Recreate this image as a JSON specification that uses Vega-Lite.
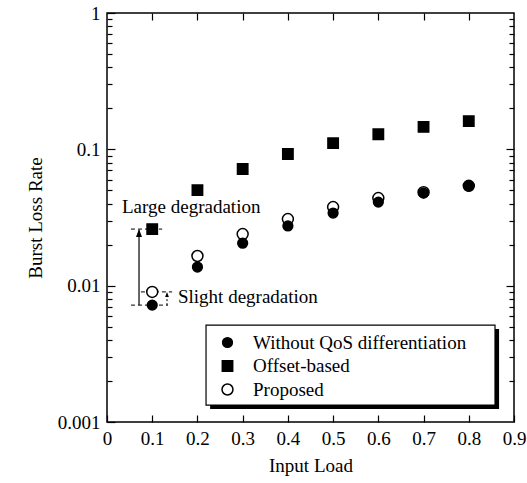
{
  "$schema": "https://vega.github.io/schema/vega-lite/v6.json",
  "width": 407,
  "height": 409,
  "autosize": {"type": "none"},
  "padding": {"left": 107, "top": 13, "right": 13, "bottom": 61},
  "background": "white",
  "config": {
    "font": "Liberation Serif",
    "view": {"stroke": "black", "strokeWidth": 1.5},
    "axis": {
      "labelFont": "Liberation Serif", "titleFont": "Liberation Serif",
      "labelFontSize": 19, "titleFontSize": 19, "titleFontWeight": "normal",
      "labelColor": "black", "titleColor": "black", "tickColor": "black", "tickWidth": 1.2,
      "grid": false, "domain": false
    },
    "legend": {
      "orient": "none", "legendX": 111, "legendY": 320,
      "labelFont": "Liberation Serif", "labelFontSize": 19, "labelColor": "black", "labelLimit": 400,
      "labelOffset": 16, "rowPadding": 3.5, "padding": 0,
      "symbolStrokeWidth": 1.5, "symbolOpacity": 1
    }
  },
  "datasets": {
    "pts": [
      {"series": "Proposed", "load": 0.1, "rate": 0.0090},
      {"series": "Proposed", "load": 0.2, "rate": 0.0165},
      {"series": "Proposed", "load": 0.3, "rate": 0.0239},
      {"series": "Proposed", "load": 0.4, "rate": 0.0308},
      {"series": "Proposed", "load": 0.5, "rate": 0.0377},
      {"series": "Proposed", "load": 0.6, "rate": 0.0439},
      {"series": "Proposed", "load": 0.7, "rate": 0.0485},
      {"series": "Proposed", "load": 0.8, "rate": 0.0540},
      {"series": "Offset-based", "load": 0.1, "rate": 0.0260},
      {"series": "Offset-based", "load": 0.2, "rate": 0.0502},
      {"series": "Offset-based", "load": 0.3, "rate": 0.0717},
      {"series": "Offset-based", "load": 0.4, "rate": 0.0924},
      {"series": "Offset-based", "load": 0.5, "rate": 0.111},
      {"series": "Offset-based", "load": 0.6, "rate": 0.129},
      {"series": "Offset-based", "load": 0.7, "rate": 0.146},
      {"series": "Offset-based", "load": 0.8, "rate": 0.161},
      {"series": "Without QoS differentiation", "load": 0.1, "rate": 0.0072},
      {"series": "Without QoS differentiation", "load": 0.2, "rate": 0.0137},
      {"series": "Without QoS differentiation", "load": 0.3, "rate": 0.0205},
      {"series": "Without QoS differentiation", "load": 0.4, "rate": 0.0274},
      {"series": "Without QoS differentiation", "load": 0.5, "rate": 0.0341},
      {"series": "Without QoS differentiation", "load": 0.6, "rate": 0.0410},
      {"series": "Without QoS differentiation", "load": 0.7, "rate": 0.0478},
      {"series": "Without QoS differentiation", "load": 0.8, "rate": 0.0538}
    ],
    "shadow": [{"x": 0.228, "x2": 0.867, "y": 0.00481, "y2": 0.001244}],
    "box": [{"x": 0.219, "x2": 0.858, "y": 0.00514, "y2": 0.00133}],
    "hdash": [
      {"x": 0.053, "x2": 0.122, "y": 0.026},
      {"x": 0.053, "x2": 0.135, "y": 0.0072},
      {"x": 0.075, "x2": 0.144, "y": 0.009}
    ],
    "bigstem": [{"x": 0.0708, "y": 0.0072, "y2": 0.0255}],
    "smallstem": [{"x": 0.1327, "y": 0.0072, "y2": 0.0088}],
    "bighead": [{"x": 0.0708, "y": 0.026}],
    "smallhead": [{"x": 0.1327, "y": 0.009}],
    "notes": [
      {"text": "Large degradation", "x": 0.0332, "y": 0.0377},
      {"text": "Slight degradation", "x": 0.157, "y": 0.00824}
    ]
  },
  "layer": [
    {
      "data": {"name": "shadow"},
      "mark": {"type": "rect", "fill": "black"},
      "encoding": {
        "x": {"field": "x", "type": "quantitative", "scale": {"domain": [0, 0.9], "nice": false, "zero": false},
          "axis": {"orient": "top", "values": [0.1, 0.2, 0.3, 0.4, 0.5, 0.6, 0.7, 0.8], "labels": false, "title": null, "tickSize": 7, "offset": -7}},
        "x2": {"field": "x2"},
        "y": {"field": "y", "type": "quantitative", "scale": {"type": "log", "domain": [0.001, 1], "nice": false},
          "axis": {"orient": "right", "values": [0.01, 0.1], "labels": false, "title": null, "tickSize": 8, "offset": -8}},
        "y2": {"field": "y2"}
      }
    },
    {
      "data": {"name": "box"},
      "mark": {"type": "rect", "fill": "white", "stroke": "black", "strokeWidth": 1.2},
      "encoding": {
        "x": {"field": "x", "type": "quantitative", "scale": {"domain": [0, 0.9], "nice": false, "zero": false}, "axis": null},
        "x2": {"field": "x2"},
        "y": {"field": "y", "type": "quantitative", "scale": {"type": "log", "domain": [0.001, 1], "nice": false},
          "axis": {"orient": "right", "values": [0.002,0.003,0.004,0.005,0.006,0.007,0.008,0.009,0.02,0.03,0.04,0.05,0.06,0.07,0.08,0.09,0.2,0.3,0.4,0.5,0.6,0.7,0.8,0.9],
            "labels": false, "title": null, "tickSize": 5, "offset": -5}},
        "y2": {"field": "y2"}
      }
    },
    {
      "data": {"name": "hdash"},
      "mark": {"type": "rule", "stroke": "black", "strokeWidth": 1, "strokeDash": [4, 3]},
      "encoding": {
        "x": {"field": "x", "type": "quantitative", "scale": {"domain": [0, 0.9], "nice": false, "zero": false}, "axis": null},
        "x2": {"field": "x2"},
        "y": {"field": "y", "type": "quantitative", "scale": {"type": "log", "domain": [0.001, 1], "nice": false},
          "axis": {"orient": "left", "values": [0.002,0.003,0.004,0.005,0.006,0.007,0.008,0.009,0.02,0.03,0.04,0.05,0.06,0.07,0.08,0.09,0.2,0.3,0.4,0.5,0.6,0.7,0.8,0.9],
            "labels": false, "title": null, "tickSize": 5, "offset": -5}}
      }
    },
    {
      "data": {"name": "bigstem"},
      "mark": {"type": "rule", "stroke": "black", "strokeWidth": 1.2},
      "encoding": {
        "x": {"field": "x", "type": "quantitative", "scale": {"domain": [0, 0.9], "nice": false, "zero": false}, "axis": null},
        "y": {"field": "y", "type": "quantitative", "scale": {"type": "log", "domain": [0.001, 1], "nice": false}, "axis": null},
        "y2": {"field": "y2"}
      }
    },
    {
      "data": {"name": "smallstem"},
      "mark": {"type": "rule", "stroke": "black", "strokeWidth": 1, "strokeDash": [2, 2]},
      "encoding": {
        "x": {"field": "x", "type": "quantitative", "scale": {"domain": [0, 0.9], "nice": false, "zero": false}, "axis": null},
        "y": {"field": "y", "type": "quantitative", "scale": {"type": "log", "domain": [0.001, 1], "nice": false}, "axis": null},
        "y2": {"field": "y2"}
      }
    },
    {
      "data": {"name": "bighead"},
      "mark": {"type": "point", "shape": "M0,0L-0.75,2L0.75,2Z", "size": 64, "filled": true, "fill": "black", "opacity": 1, "strokeWidth": 0},
      "encoding": {
        "x": {"field": "x", "type": "quantitative", "scale": {"domain": [0, 0.9], "nice": false, "zero": false}, "axis": null},
        "y": {"field": "y", "type": "quantitative", "scale": {"type": "log", "domain": [0.001, 1], "nice": false}, "axis": null}
      }
    },
    {
      "data": {"name": "smallhead"},
      "mark": {"type": "point", "shape": "M0,0L-0.75,2L0.75,2Z", "size": 25, "filled": true, "fill": "black", "opacity": 1, "strokeWidth": 0},
      "encoding": {
        "x": {"field": "x", "type": "quantitative", "scale": {"domain": [0, 0.9], "nice": false, "zero": false}, "axis": null},
        "y": {"field": "y", "type": "quantitative", "scale": {"type": "log", "domain": [0.001, 1], "nice": false}, "axis": null}
      }
    },
    {
      "data": {"name": "notes"},
      "mark": {"type": "text", "align": "left", "baseline": "middle", "font": "Liberation Serif", "fontSize": 19, "color": "black"},
      "encoding": {
        "x": {"field": "x", "type": "quantitative", "scale": {"domain": [0, 0.9], "nice": false, "zero": false}, "axis": null},
        "y": {"field": "y", "type": "quantitative", "scale": {"type": "log", "domain": [0.001, 1], "nice": false}, "axis": null},
        "text": {"field": "text"}
      }
    },
    {
      "data": {"name": "pts"},
      "mark": {"type": "point", "filled": true, "opacity": 1, "strokeWidth": 1.5},
      "encoding": {
        "x": {"field": "load", "type": "quantitative", "scale": {"domain": [0, 0.9], "nice": false, "zero": false},
          "axis": {"orient": "bottom", "values": [0, 0.1, 0.2, 0.3, 0.4, 0.5, 0.6, 0.7, 0.8, 0.9], "labelFlush": false, "labelOverlap": false,
            "labelExpr": "datum.value === 0 ? '0' : format(datum.value, '.1f')", "tickSize": 7, "offset": -7, "labelPadding": 7,
            "title": "Input Load", "titlePadding": 8}},
        "y": {"field": "rate", "type": "quantitative", "scale": {"type": "log", "domain": [0.001, 1], "nice": false},
          "axis": {"orient": "left", "values": [0.001, 0.01, 0.1, 1],
            "labelOverlap": false, "labelExpr": "datum.value === 1 ? '1' : datum.value === 0.1 ? '0.1' : datum.value === 0.01 ? '0.01' : '0.001'",
            "tickSize": 8, "offset": -8, "labelPadding": 7, "title": "Burst Loss Rate", "titlePadding": 12}},
        "shape": {"field": "series", "type": "nominal",
          "scale": {"domain": ["Without QoS differentiation", "Offset-based", "Proposed"], "range": ["circle", "square", "circle"]},
          "legend": {"title": null}},
        "fill": {"field": "series", "type": "nominal",
          "scale": {"domain": ["Without QoS differentiation", "Offset-based", "Proposed"], "range": ["black", "black", "white"]},
          "legend": {"title": null}},
        "stroke": {"field": "series", "type": "nominal",
          "scale": {"domain": ["Without QoS differentiation", "Offset-based", "Proposed"], "range": ["black", "black", "black"]},
          "legend": {"title": null}},
        "size": {"field": "series", "type": "nominal",
          "scale": {"domain": ["Without QoS differentiation", "Offset-based", "Proposed"], "range": [95, 120, 95]},
          "legend": {"title": null}}
      }
    }
  ],
  "resolve": {"axis": {"x": "independent", "y": "independent"}}
}
